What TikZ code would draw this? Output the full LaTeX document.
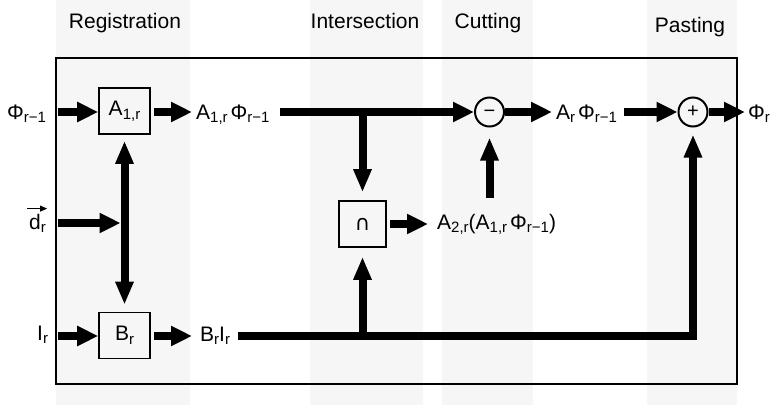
\documentclass[tikz,border=0pt]{standalone}
\usepackage{fontspec}
\setmainfont{Liberation Sans}
\newfontfamily\symfont{DejaVu Sans}
\usetikzlibrary{arrows.meta}
\definecolor{bandgray}{RGB}{246,246,246}
\newcommand\mysub[1]{\raisebox{-3.5pt}{\fontsize{15}{16}\selectfont #1}}
\begin{document}
\begin{tikzpicture}[x=1pt,y=-1pt,
  font=\fontsize{21}{24}\selectfont,
  flow/.style={line width=8pt, -{Triangle[length=21pt,width=19pt]}},
  flowboth/.style={line width=8pt, {Triangle[length=23pt,width=17pt]}-{Triangle[length=23pt,width=17pt]}},
  vflow/.style={line width=8pt, -{Triangle[length=23pt,width=17pt]}},
  bus/.style={line width=8pt, line join=miter},
  opbox/.style={draw, line width=1.6pt, minimum width=51pt, minimum height=46pt, inner sep=0pt},
  opcirc/.style={draw, circle, line width=2pt, minimum size=29pt, inner sep=0pt, font=\fontsize{20}{20}\selectfont},
  lbl/.style={inner sep=0pt},
  head/.style={inner sep=0pt, anchor=base}]
\useasboundingbox (0,0) rectangle (777,405);
% bands
\fill[bandgray] (56,0) rectangle (190,405);
\fill[bandgray] (310,0) rectangle (423,405);
\fill[bandgray] (442,0) rectangle (533,405);
\fill[bandgray] (647,0) rectangle (737,405);
% frame
\draw[line width=1.3pt] (56,58) rectangle (737,384);
% headings
\node[head] (hreg) at (125,28) {Registration};
\node[head] (hint) at (365,28) {Intersection};
\node[head] (hcut) at (488,28) {Cutting};
\node[head] (hpas) at (690,32) {Pasting};
% operators
\node[opbox] (Abox) at (124.5,111) {A\mysub{1,r}};
\node[opbox] (Bbox) at (124.5,335.5) {B\mysub{r}};
\node[opbox, minimum width=47pt] (cap) at (362.5,224) {\symfont ∩};
\node[opcirc] (minus) at (489.5,112) {\vphantom{+}−};
\node[opcirc] (plus) at (693,112) {+};
% labels
\node[lbl, anchor=base west] (phiIn) at (7,119) {Φ\mysub{r−1}};
\node[lbl, anchor=base west] (dIn) at (29,229) {d\mysub{r}};
\node[lbl, anchor=base west] (IIn) at (37,340) {I\mysub{r}};
\node[lbl, anchor=base west] (aphi) at (196,119) {A\mysub{1,r}\hspace{3pt}Φ\mysub{r−1}};
\node[lbl, anchor=base west] (brir) at (200,341) {B\mysub{r}I\mysub{r}};
\node[lbl, anchor=base west] (a2) at (437,229) {A\mysub{2,r}(A\mysub{1,r}\hspace{3pt}Φ\mysub{r−1})};
\node[lbl, anchor=base west] (arphi) at (556,119) {A\mysub{r}\hspace{3pt}Φ\mysub{r−1}};
\node[lbl, anchor=base west] (phiOut) at (748,119) {Φ\mysub{r}};
% vector arrow over d
\draw[line width=0.9pt, -{Triangle[length=7pt,width=6pt]}] ([xshift=-2pt,yshift=5pt]dIn.north west) -- ([xshift=1pt,yshift=5pt]dIn.north east);
% coordinates
\coordinate (inA) at (58,112);
\coordinate (inD) at (58,223);
\coordinate (inB) at (58,336);
\coordinate (busA) at (280,112);
\coordinate (busB) at (238,336);
\coordinate (mup) at (489.5,198);
% registration
\draw[flow] (inA) -- (inA -| Abox.west);
\draw[flow] (inB) -- (inB -| Bbox.west);
\draw[flowboth, shorten <=6pt, shorten >=7pt] (Abox.south) -- (Bbox.north);
\draw[flow] (inD) -- ([xshift=-4pt]inD -| Abox.south);
\draw[flow, shorten <=3pt, shorten >=4pt] (Abox.east |- inA) -- (inA -| aphi.west);
\draw[flow, shorten <=3pt, shorten >=8pt] (Bbox.east |- inB) -- (inB -| brir.west);
% top bus
\draw[flow] (busA) -- (minus.west);
\draw[vflow, shorten >=8pt] (busA -| cap.north) -- (cap.north);
% bottom bus
\draw[bus, -{Triangle[length=23pt,width=17pt]}, shorten >=7pt] (busB) -| (plus.south);
\draw[vflow, shorten >=9pt] (busB -| cap.south) -- (cap.south);
% intersection output
\draw[flow, shorten <=3pt, shorten >=9pt] (cap.east) -- (cap.east -| a2.west);
% cutting
\draw[vflow, shorten >=10pt] (mup) -- (minus.south);
\draw[flow, shorten >=4pt] (minus.east) -- (minus.east -| arphi.west);
\draw[flow, shorten <=7pt] (arphi.east |- plus.west) -- (plus.west);
% pasting
\draw[flow, shorten >=3pt] (plus.east) -- (plus.east -| phiOut.west);
\end{tikzpicture}
\end{document}
